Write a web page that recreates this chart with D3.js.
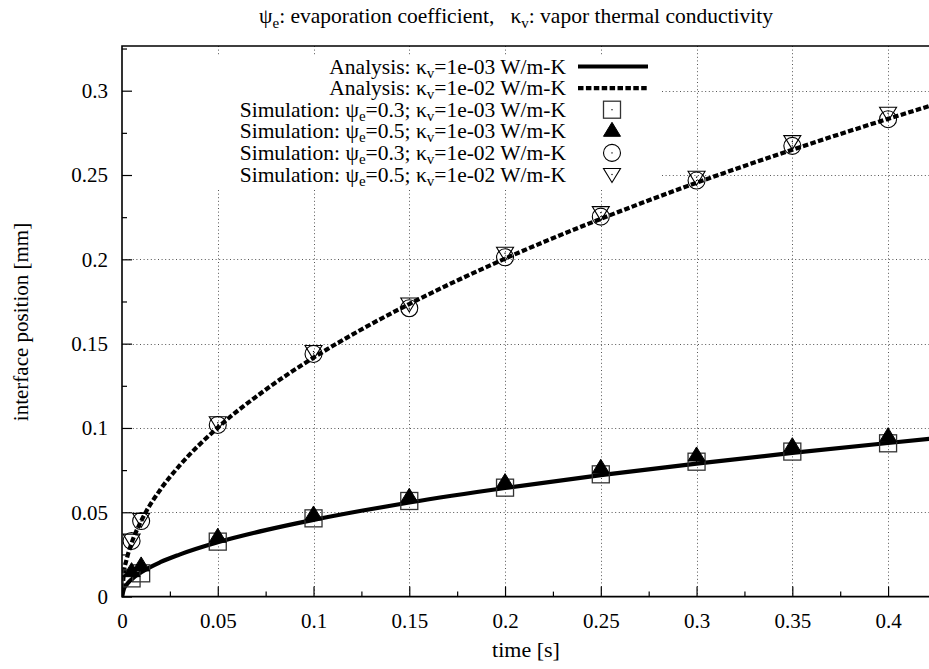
<!DOCTYPE html>
<html>
<head>
<meta charset="utf-8">
<script src="https://cdn.jsdelivr.net/npm/d3@7"></script>
<style>
  html, body { margin: 0; padding: 0; background: #fff; }
  svg { display: block; }
  text { white-space: pre; font-family: "Liberation Serif", "Times New Roman", serif; }
</style>
</head>
<body>
<svg id="chart" width="929" height="669"></svg>
<script>
// Analytical interface position curves (time [s] -> position [mm])
const curveTimes = [0, 0.001, 0.0025, 0.005, 0.01, 0.02, 0.03, 0.05, 0.075, 0.1, 0.125, 0.15, 0.2, 0.25, 0.3, 0.35, 0.4, 0.425];
const analysisK3 = [0, 0.0046, 0.0072, 0.0102, 0.0144, 0.0204, 0.0249, 0.0322, 0.0394, 0.0455, 0.0509, 0.0558, 0.0644, 0.0720, 0.0789, 0.0852, 0.0911, 0.0939];
const analysisK2 = [0, 0.0142, 0.0224, 0.0317, 0.0448, 0.0634, 0.0776, 0.1002, 0.1227, 0.1417, 0.1584, 0.1735, 0.2004, 0.2240, 0.2454, 0.2650, 0.2833, 0.2921];

// Simulation samples
const simTimes = [0.005, 0.01, 0.05, 0.1, 0.15, 0.2, 0.25, 0.3, 0.35, 0.4];
const simPsi03K3 = [0.0108, 0.0138, 0.0326, 0.0464, 0.0567, 0.0646, 0.0725, 0.0800, 0.0860, 0.0909];
const simPsi05K3 = [0.0148, 0.0182, 0.0352, 0.0484, 0.0589, 0.0676, 0.0761, 0.0834, 0.0889, 0.0948];
const simPsi03K2 = [0.0330, 0.0448, 0.1018, 0.1439, 0.1710, 0.2012, 0.2253, 0.2467, 0.2673, 0.2831];
const simPsi05K2 = [0.0335, 0.0458, 0.1031, 0.1453, 0.1735, 0.2036, 0.2277, 0.2487, 0.2698, 0.2866];

// Axis ticks
const xTicks = [0, 0.05, 0.1, 0.15, 0.2, 0.25, 0.3, 0.35, 0.4];
const xTickLabels = ["0", "0.05", "0.1", "0.15", "0.2", "0.25", "0.3", "0.35", "0.4"];
const xMinorTicks = [0.025, 0.075, 0.125, 0.175, 0.225, 0.275, 0.325, 0.375, 0.425];
const yTicks = [0, 0.05, 0.1, 0.15, 0.2, 0.25, 0.3];
const yTickLabels = ["0", "0.05", "0.1", "0.15", "0.2", "0.25", "0.3"];
const yMinorTicks = [0.025, 0.075, 0.125, 0.175, 0.225, 0.275, 0.325];

const xDomain = [0, 0.4245];
const yDomain = [0, 0.3265];

const svg = d3.select("#chart");
const plotLeft = 122, plotRight = 935, plotTop = 46, plotBottom = 596.6;

const x = d3.scaleLinear().domain(xDomain).range([plotLeft, plotRight]);
const y = d3.scaleLinear().domain(yDomain).range([plotBottom, plotTop]);

// Text with sub-scripted symbols: parts = [[text, isSub], ...]
function richText(sel, parts, subSize, shift) {
  parts.forEach(([t, sub], i) => {
    const ts = sel.append("tspan").text(t);
    if (sub) {
      ts.attr("font-size", subSize).attr("dy", shift);
    } else if (i > 0 && parts[i - 1][1]) {
      ts.attr("dy", -shift);
    }
  });
  return sel;
}

svg.append("defs").append("clipPath").attr("id", "plotClip")
  .append("rect").attr("x", plotLeft).attr("y", plotTop)
  .attr("width", plotRight - plotLeft).attr("height", plotBottom - plotTop);

// Grid
const grid = svg.append("g").attr("stroke", "#555").attr("stroke-width", 1).attr("stroke-dasharray", "1,2.6");
grid.selectAll(".gx").data(xTicks.filter(d => d > 0)).join("line")
  .attr("x1", d => Math.round(x(d)) + 0.5).attr("x2", d => Math.round(x(d)) + 0.5)
  .attr("y1", plotTop).attr("y2", plotBottom);
grid.selectAll(".gy").data(yTicks.filter(d => d > 0)).join("line")
  .attr("y1", d => Math.round(y(d)) + 0.5).attr("y2", d => Math.round(y(d)) + 0.5)
  .attr("x1", plotLeft).attr("x2", plotRight);

// Key background hides the grid behind the key
svg.append("rect").attr("x", plotLeft + 1).attr("y", 55).attr("width", 660 - plotLeft - 1).attr("height", 133).attr("fill", "#fff");

// Analysis curves
const line = d3.line().x(d => x(d[0])).y(d => y(d[1])).curve(d3.curveMonotoneX);
const plot = svg.append("g").attr("clip-path", "url(#plotClip)");
plot.append("path").datum(curveTimes.map((t, i) => [t, analysisK3[i]]))
  .attr("d", line).attr("fill", "none").attr("stroke", "#000").attr("stroke-width", 4.2);
plot.append("path").datum(curveTimes.map((t, i) => [t, analysisK2[i]]))
  .attr("d", line).attr("fill", "none").attr("stroke", "#000").attr("stroke-width", 4.2)
  .attr("stroke-dasharray", "5.5,2.4");

// Marker shapes
function drawMarker(g, type, cx, cy) {
  if (type === "square") {
    g.append("rect").attr("x", cx - 8.5).attr("y", cy - 8.5).attr("width", 17).attr("height", 17)
      .attr("fill", "none").attr("stroke", "#333").attr("stroke-width", 1.3);
    g.append("rect").attr("x", cx - 0.6).attr("y", cy - 0.6).attr("width", 1.2).attr("height", 1.2).attr("fill", "#000");
  } else if (type === "triangle") {
    g.append("path").attr("d", `M${cx},${cy - 9}L${cx + 8.5},${cy + 5}L${cx - 8.5},${cy + 5}Z`)
      .attr("fill", "#000").attr("stroke", "#000").attr("stroke-width", 1);
  } else if (type === "circle") {
    g.append("circle").attr("cx", cx).attr("cy", cy).attr("r", 8.5)
      .attr("fill", "none").attr("stroke", "#000").attr("stroke-width", 1.1);
    g.append("rect").attr("x", cx - 0.6).attr("y", cy - 0.6).attr("width", 1.2).attr("height", 1.2).attr("fill", "#000");
  } else if (type === "dtriangle") {
    g.append("path").attr("d", `M${cx - 8.5},${cy - 6}L${cx + 8.5},${cy - 6}L${cx},${cy + 8}Z`)
      .attr("fill", "none").attr("stroke", "#000").attr("stroke-width", 1.1);
    g.append("rect").attr("x", cx - 0.6).attr("y", cy - 0.6).attr("width", 1.2).attr("height", 1.2).attr("fill", "#000");
  }
}

const simSeries = [
  { type: "square", values: simPsi03K3 },
  { type: "triangle", values: simPsi05K3 },
  { type: "circle", values: simPsi03K2 },
  { type: "dtriangle", values: simPsi05K2 }
];
const marks = svg.append("g");
simSeries.forEach(s => {
  simTimes.forEach((t, i) => drawMarker(marks, s.type, x(t), y(s.values[i])));
});

// Axes (ticks point into the plot)
const axisStyle = g => {
  g.attr("font-family", null);
  g.select(".domain").remove();
  g.selectAll(".tick line").attr("stroke", "#000").attr("stroke-width", 1.2);
  g.selectAll("text").attr("font-size", 21).attr("fill", "#000");
};
svg.append("g").attr("transform", `translate(${plotLeft},0)`)
  .call(d3.axisLeft(y).tickValues(yTicks).tickSize(-10).tickPadding(14)
    .tickFormat((d, i) => yTickLabels[i]))
  .call(axisStyle);
svg.append("g").attr("transform", `translate(${plotLeft},0)`)
  .call(d3.axisLeft(y).tickValues(yMinorTicks).tickSize(-5).tickFormat(""))
  .call(axisStyle);
svg.append("g").attr("transform", `translate(0,${plotBottom})`)
  .call(d3.axisBottom(x).tickValues(xTicks).tickSize(-10).tickPadding(16)
    .tickFormat((d, i) => xTickLabels[i]))
  .call(axisStyle);
svg.append("g").attr("transform", `translate(0,${plotBottom})`)
  .call(d3.axisBottom(x).tickValues(xMinorTicks).tickSize(-5).tickFormat(""))
  .call(axisStyle);

// Border
svg.append("path").attr("d", `M${plotRight},${plotTop}H${plotLeft}V${plotBottom}H${plotRight}`)
  .attr("fill", "none").attr("stroke", "#000").attr("stroke-width", 1.6);

// Key
const keyEntries = [
  { kind: "solid", parts: [["Analysis: κ", false], ["v", true], ["=1e-03 W/m-K", false]] },
  { kind: "dashed", parts: [["Analysis: κ", false], ["v", true], ["=1e-02 W/m-K", false]] },
  { kind: "square", parts: [["Simulation: ψ", false], ["e", true], ["=0.3; κ", false], ["v", true], ["=1e-03 W/m-K", false]] },
  { kind: "triangle", parts: [["Simulation: ψ", false], ["e", true], ["=0.5; κ", false], ["v", true], ["=1e-03 W/m-K", false]] },
  { kind: "circle", parts: [["Simulation: ψ", false], ["e", true], ["=0.3; κ", false], ["v", true], ["=1e-02 W/m-K", false]] },
  { kind: "dtriangle", parts: [["Simulation: ψ", false], ["e", true], ["=0.5; κ", false], ["v", true], ["=1e-02 W/m-K", false]] }
];
const key = svg.append("g");
keyEntries.forEach((e, i) => {
  const cy = 66.5 + i * 21.6;
  const t = key.append("text").attr("x", 566).attr("y", cy + 7).attr("text-anchor", "end")
    .attr("font-size", 21.5).attr("fill", "#000");
  richText(t, e.parts, 15, 4);
  if (e.kind === "solid" || e.kind === "dashed") {
    const l = key.append("line").attr("x1", 578).attr("x2", 648).attr("y1", cy).attr("y2", cy)
      .attr("stroke", "#000").attr("stroke-width", 4.2);
    if (e.kind === "dashed") l.attr("stroke-dasharray", "5.5,2.4");
  } else {
    drawMarker(key, e.kind, 612, cy);
  }
});

// Title and axis labels
richText(svg.append("text").attr("x", 516).attr("y", 23).attr("text-anchor", "middle")
  .attr("font-size", 21.5).attr("fill", "#000"),
  [["ψ", false], ["e", true], [": evaporation coefficient,   κ", false], ["v", true], [": vapor thermal conductivity", false]], 15, 5);

svg.append("text").attr("x", 526).attr("y", 657).attr("text-anchor", "middle")
  .attr("font-size", 22).attr("fill", "#000").text("time [s]");

svg.append("text").attr("transform", "translate(28,322) rotate(-90)").attr("text-anchor", "middle")
  .attr("font-size", 21).attr("fill", "#000").text("interface position [mm]");
</script>
</body>
</html>
